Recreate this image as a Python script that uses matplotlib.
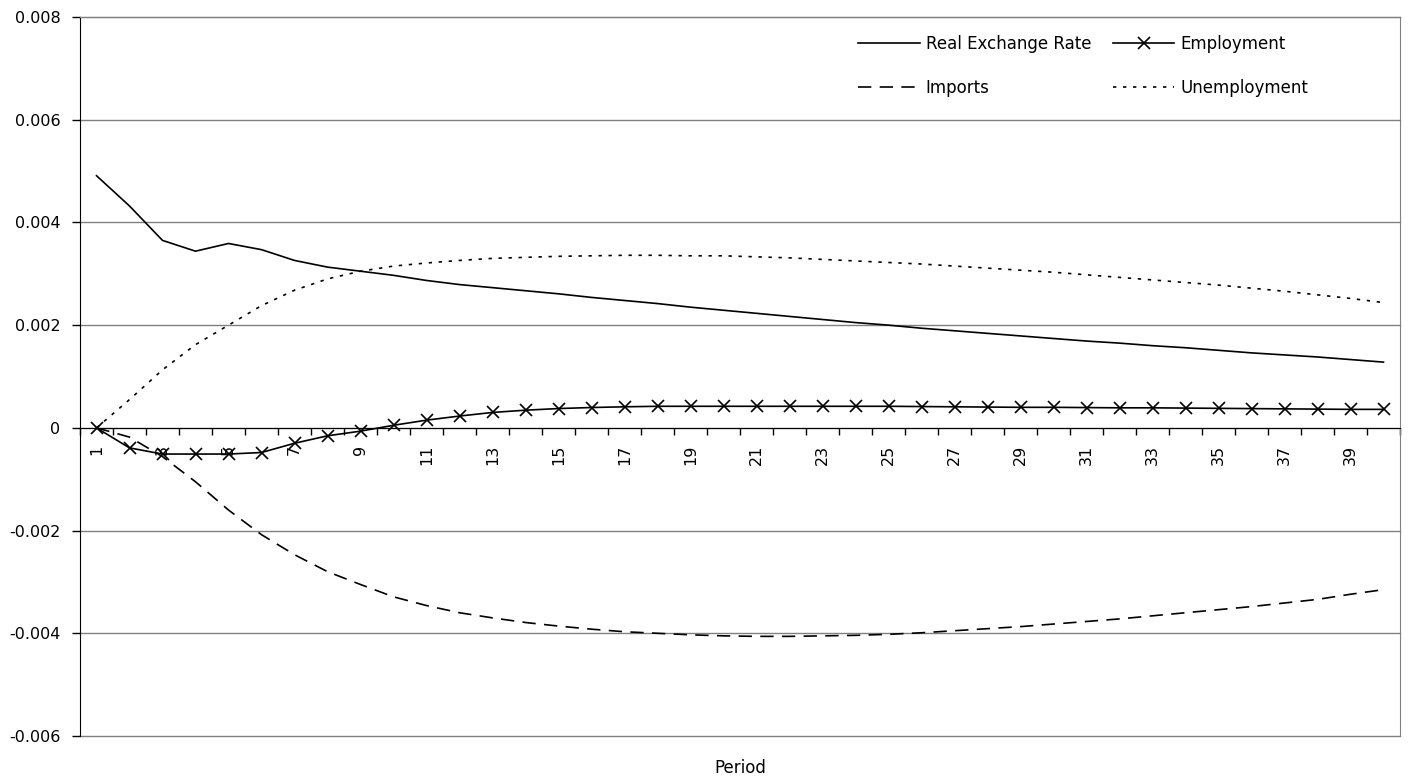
import matplotlib
matplotlib.use("Agg")
import matplotlib.pyplot as plt
import numpy as np

plt.rcParams['font.family'] = ['DejaVu Sans']

periods = list(range(1, 41))

real_exchange_rate = [
    0.00491, 0.00432, 0.00365, 0.00344, 0.00359, 0.00347, 0.00326, 0.00313, 0.00305, 0.00297,
    0.00287, 0.00279, 0.00273, 0.00267, 0.00261, 0.00254, 0.00248, 0.00242, 0.00235, 0.00229,
    0.00223, 0.00217, 0.00211, 0.00205, 0.00200, 0.00194, 0.00189, 0.00184, 0.00179, 0.00174,
    0.00169, 0.00165, 0.00160, 0.00156, 0.00151, 0.00146, 0.00142, 0.00138, 0.00133, 0.00128,
]
employment = [
    0.0, -0.00039, -0.00051, -0.00051, -0.00051, -0.00048, -0.00030, -0.000155, -0.000064, 0.00005,
    0.00015, 0.00023, 0.00030, 0.000344, 0.000376, 0.000396, 0.00041, 0.00042, 0.00042, 0.00042,
    0.00042, 0.00042, 0.00042, 0.00042, 0.00042, 0.000415, 0.00041, 0.000405, 0.0004, 0.0004,
    0.000395, 0.00039, 0.00039, 0.000385, 0.00038, 0.000375, 0.00037, 0.000365, 0.00036, 0.00036,
]
imports = [
    0.0, -0.00018, -0.00056, -0.00105, -0.00160, -0.00208, -0.00247, -0.00280, -0.00305, -0.00329,
    -0.00346, -0.00360, -0.00370, -0.00379, -0.00386, -0.00392, -0.00397, -0.00400, -0.00403, -0.00405,
    -0.00406, -0.00406, -0.00405, -0.00404, -0.00402, -0.00399, -0.00395, -0.00391, -0.00387, -0.00382,
    -0.00377, -0.00372, -0.00366, -0.00360, -0.00354, -0.00348, -0.00341, -0.00334, -0.00324, -0.00315,
]
unemployment = [
    0.0, 0.00055, 0.00113, 0.00162, 0.00200, 0.00238, 0.00268, 0.00290, 0.00305, 0.00315,
    0.00321, 0.00326, 0.00330, 0.00332, 0.00334, 0.00335, 0.00336, 0.00336, 0.00335, 0.00335,
    0.00333, 0.00331, 0.00328, 0.00325, 0.00322, 0.00319, 0.00315, 0.00311, 0.00307, 0.00303,
    0.00298, 0.00293, 0.00288, 0.00283, 0.00278, 0.00272, 0.00266, 0.00259, 0.00252, 0.00244,
]

y_ticks = [-0.006, -0.004, -0.002, 0, 0.002, 0.004, 0.006, 0.008]
y_tick_labels = ["-0.006", "-0.004", "-0.002", "0", "0.002", "0.004", "0.006", "0.008"]
x_tick_labels = [str(p) for p in periods[::2]]

fig = plt.figure(figsize=(14.08, 7.81), dpi=100)
ax = fig.add_axes([80 / 1408, 1 - 736 / 781, 1320 / 1408, (736 - 17) / 781])

lw = 1.2
l_rer, = ax.plot(periods, real_exchange_rate, color='black', lw=lw, label='Real Exchange Rate')
l_emp, = ax.plot(periods, employment, color='black', lw=lw, marker='x', markersize=9,
                 markeredgewidth=1.2, label='Employment')
l_imp, = ax.plot(periods, imports, color='black', lw=lw, dashes=(8, 5), label='Imports')
l_une, = ax.plot(periods, unemployment, color='black', lw=lw, dashes=(2, 4), label='Unemployment')

ax.set_xlim(0.5, 40.5)
ax.set_ylim(-0.006, 0.008)

ax.set_yticks(y_ticks)
ax.set_yticklabels(y_tick_labels, fontsize=11.5)
ax.yaxis.grid(True, color='#808080', lw=1.0)
for gl in ax.get_ygridlines():
    gl.set_clip_on(False)
ax.set_axisbelow(True)
ax.tick_params(axis='y', length=6, direction='out', width=1, pad=8)

# category axis sits on the zero line, ticks between categories
ax.spines['bottom'].set_position(('data', 0))
ax.spines['bottom'].set_color('black')
ax.spines['left'].set_color('black')
for side in ('top', 'right'):
    ax.spines[side].set_color('#808080')
ax.set_xticks(periods[::2])
ax.set_xticklabels(x_tick_labels, rotation=90, fontsize=11.5)
ax.set_xticks(np.arange(0.5, 41.0, 1.0), minor=True)
ax.tick_params(axis='x', which='major', length=0, pad=12)
ax.tick_params(axis='x', which='minor', length=5, direction='out', width=1)

fig.text(740 / 1408, 1 - 768 / 781, 'Period', ha='center', va='center', fontsize=12)

ax.legend(handles=[l_rer, l_imp, l_emp, l_une], ncol=2, loc='upper left',
          bbox_to_anchor=((858 - 80) / 1320, (736 - 35) / 719), frameon=False, fontsize=12,
          handlelength=3.7, handletextpad=0.35, columnspacing=1.3, labelspacing=1.55,
          borderpad=0, borderaxespad=0)

fig.savefig('out.png', dpi=100)
